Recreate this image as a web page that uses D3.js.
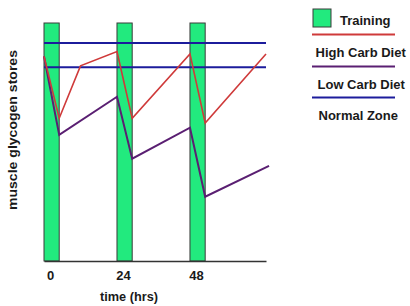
<!DOCTYPE html>
<html>
<head>
<meta charset="utf-8">
<script src="https://cdn.jsdelivr.net/npm/d3@7"></script>
<style>
	body { margin: 0; background: #fff; }
	text { font-family: "Liberation Sans", Arial, sans-serif; font-weight: bold; fill: #1a1a1a; }
</style>
</head>
<body>
<script>
// data (hours / relative glycogen stores 0..100)
const trainingStart = [-2, 22, 46];
const trainingLength = 5;
const tickHours = [0, 24, 48];
const highCarbHours = [-2, 3, 10, 22, 27, 46, 51, 71];
const highCarbStores = [86, 60, 82, 88, 60, 87, 58, 87];
const lowCarbHours = [-2, 3, 22, 27, 46, 51, 72];
const lowCarbStores = [86, 53, 69, 43, 56, 27, 40];
const normalZone = [81.4, 91.6];
const legendLabels = ["Training", "High Carb Diet", "Low Carb Diet", "Normal Zone"];

(() => {
	let width = 410;
	let height = 306;
	let green = "#22ea7e";
	let red = "#cf3a3a";
	let purple = "#5a1f72";
	let blue = "#1c1c9c";

	let svg = d3.select("body").append("svg")
		.attr("width", width)
		.attr("height", height);

	let x = d3.scaleLinear().domain([-2, 71]).range([44, 266]);
	let y = d3.scaleLinear().domain([0, 100]).range([261, 23]);

	// training bars
	svg.selectAll("rect.train")
		.data(trainingStart)
		.enter().append("rect")
		.attr("class", "train")
		.attr("x", d => x(d))
		.attr("y", y(100))
		.attr("width", d => x(d + trainingLength) - x(d))
		.attr("height", y(0) - y(100))
		.style("fill", green)
		.style("stroke", "#3a3a3a")
		.style("stroke-width", 1);

	// normal zone
	svg.selectAll("line.zone")
		.data(normalZone)
		.enter().append("line")
		.attr("x1", x(-2))
		.attr("x2", x(71))
		.attr("y1", d => y(d))
		.attr("y2", d => y(d))
		.style("stroke", blue)
		.style("stroke-width", 2);

	let line = d3.line()
		.x(d => x(d[0]))
		.y(d => y(d[1]));

	svg.append("path")
		.datum(lowCarbHours.map((h, i) => [h, lowCarbStores[i]]))
		.attr("d", line)
		.style("fill", "none")
		.style("stroke", purple)
		.style("stroke-width", 2);

	svg.append("path")
		.datum(highCarbHours.map((h, i) => [h, highCarbStores[i]]))
		.attr("d", line)
		.style("fill", "none")
		.style("stroke", red)
		.style("stroke-width", 1.6);

	// x axis
	let axis = svg.append("g")
		.attr("transform", `translate(0,${y(0)})`)
		.call(d3.axisBottom(x).tickValues(tickHours).tickSize(0).tickPadding(10));
	axis.select(".domain").style("stroke", "#333").style("stroke-width", 1.5);
	axis.selectAll("text")
		.style("font-size", "13px")
		.style("font-family", "'Liberation Sans', Arial, sans-serif")
		.style("font-weight", "bold")
		.style("fill", "#1a1a1a");

	svg.append("text")
		.attr("x", 129)
		.attr("y", 301)
		.attr("text-anchor", "middle")
		.attr("textLength", 58)
		.attr("lengthAdjust", "spacingAndGlyphs")
		.style("font-size", "13px")
		.text("time (hrs)");

	svg.append("text")
		.attr("transform", "translate(17,130) rotate(-90)")
		.attr("text-anchor", "middle")
		.attr("textLength", 160)
		.attr("lengthAdjust", "spacingAndGlyphs")
		.style("font-size", "13.5px")
		.text("muscle glycogen stores");

	// legend
	svg.append("rect")
		.attr("x", 313).attr("y", 9)
		.attr("width", 18).attr("height", 18)
		.style("fill", green)
		.style("stroke", "#3a3a3a")
		.style("stroke-width", 1);

	let legendLines = [
		{y: 34.5, color: red},
		{y: 66.5, color: purple},
		{y: 97.5, color: blue}
	];
	svg.selectAll("line.leg")
		.data(legendLines)
		.enter().append("line")
		.attr("x1", 312).attr("x2", 395)
		.attr("y1", d => d.y).attr("y2", d => d.y)
		.style("stroke", d => d.color)
		.style("stroke-width", 2);

	let legendPos = [
		{x: 340, y: 24.5},
		{x: 315.5, y: 56.5},
		{x: 317.5, y: 88.5},
		{x: 318.5, y: 120}
	];
	svg.selectAll("text.leg")
		.data(legendLabels)
		.enter().append("text")
		.attr("x", (d, i) => legendPos[i].x)
		.attr("y", (d, i) => legendPos[i].y)
		.style("font-size", "13px")
		.text(d => d);
})();
</script>
</body>
</html>
